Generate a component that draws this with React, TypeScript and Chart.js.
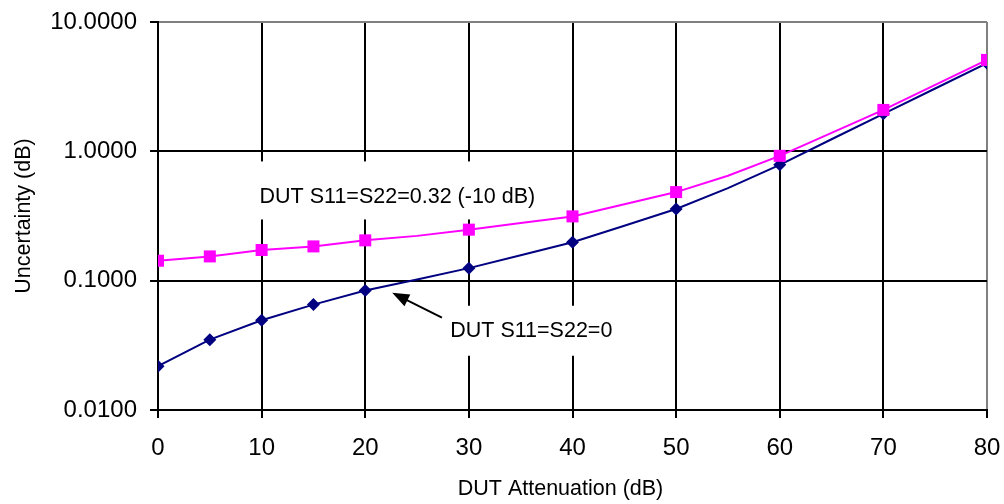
import React, { useEffect, useRef } from "react";
import { Chart, registerables } from "chart.js";

Chart.register(...registerables);

// ---- data ----
const attenuation = [0, 5, 10, 15, 20, 25, 30, 35, 40, 45, 50, 55, 60, 65, 70, 75, 80];
const markerAt = [0, 5, 10, 15, 20, 30, 40, 50, 60, 70, 80];
const uncertaintyMatched = [0.0218, 0.035, 0.0494, 0.0653, 0.084, 0.102, 0.125, 0.157, 0.198, 0.266, 0.358, 0.52, 0.787, 1.24, 1.95, 3.06, 4.8];
const uncertaintyMismatched = [0.1426, 0.154, 0.1726, 0.184, 0.205, 0.222, 0.248, 0.279, 0.314, 0.39, 0.484, 0.647, 0.923, 1.39, 2.09, 3.26, 5.09];
const yTicks = [0.01, 0.1, 1, 10];
const seriesMatchedLabel = "DUT S11=S22=0";
const seriesMismatchedLabel = "DUT S11=S22=0.32 (-10 dB)";
const xTitle = "DUT Attenuation (dB)";
const yTitle = "Uncertainty (dB)";

const FONT = "'Liberation Sans', Arial, sans-serif";

const annotationPlugin = {
  id: "annot",
  beforeDatasetsDraw(chart: any) {
    const { ctx, scales } = chart;
    const x = scales.x;
    const y = scales.y;
    ctx.save();
    ctx.font = `21.5px ${FONT}`;
    ctx.fillStyle = "#ffffff";
    const l1x = x.getPixelForValue(9.8);
    const l1y = y.getPixelForValue(0.44);
    const w1 = ctx.measureText(seriesMismatchedLabel).width;
    ctx.fillRect(l1x - 10, l1y - 36, w1 + 20, 58);
    const l2x = x.getPixelForValue(28.2);
    const l2y = y.getPixelForValue(0.041);
    const w2 = ctx.measureText(seriesMatchedLabel).width;
    ctx.fillRect(l2x - 10, l2y - 25, w2 + 20, 50);
    ctx.restore();
  },
  afterDatasetsDraw(chart: any) {
    const { ctx, scales } = chart;
    const x = scales.x;
    const y = scales.y;
    ctx.save();
    ctx.font = `21.5px ${FONT}`;
    ctx.fillStyle = "#000000";
    ctx.textAlign = "left";
    ctx.textBaseline = "middle";
    ctx.fillText(seriesMismatchedLabel, x.getPixelForValue(9.8), y.getPixelForValue(0.44));
    ctx.fillText(seriesMatchedLabel, x.getPixelForValue(28.2), y.getPixelForValue(0.041));
    const x1 = x.getPixelForValue(27.4);
    const y1 = y.getPixelForValue(0.0518);
    const x2 = x.getPixelForValue(22.6);
    const y2 = y.getPixelForValue(0.0807);
    const ang = Math.atan2(y2 - y1, x2 - x1);
    const headLen = 17;
    const headW = 6.5;
    ctx.strokeStyle = "#000000";
    ctx.lineWidth = 2;
    ctx.beginPath();
    ctx.moveTo(x1, y1);
    ctx.lineTo(x2 - Math.cos(ang) * headLen * 0.8, y2 - Math.sin(ang) * headLen * 0.8);
    ctx.stroke();
    ctx.beginPath();
    ctx.moveTo(x2, y2);
    const bx = x2 - Math.cos(ang) * headLen;
    const by = y2 - Math.sin(ang) * headLen;
    ctx.lineTo(bx + Math.sin(ang) * headW, by - Math.cos(ang) * headW);
    ctx.lineTo(bx - Math.sin(ang) * headW, by + Math.cos(ang) * headW);
    ctx.closePath();
    ctx.fill();
    // x-axis title (slightly left of the plot centre, as in the original)
    ctx.textAlign = "center";
    ctx.fillText(xTitle, (chart.chartArea.left + chart.chartArea.right) / 2 - 12, chart.height - 15);
    ctx.restore();
  },
};

export default function App() {
  const ref = useRef<HTMLCanvasElement | null>(null);
  useEffect(() => {
    if (!ref.current) return;
    const radii = (r: number) => attenuation.map((v) => (markerAt.includes(v) ? r : 0));
    const chart = new Chart(ref.current, {
      type: "line",
      data: {
        datasets: [
          {
            label: seriesMismatchedLabel,
            data: attenuation.map((v, i) => ({ x: v, y: uncertaintyMismatched[i] })),
            borderColor: "#ff00ff",
            backgroundColor: "#ff00ff",
            borderWidth: 2,
            pointStyle: "rect",
            pointRadius: radii(8.5),
            pointBorderWidth: 0,
            pointHoverRadius: 0,
            tension: 0,
          },
          {
            label: seriesMatchedLabel,
            data: attenuation.map((v, i) => ({ x: v, y: uncertaintyMatched[i] })),
            borderColor: "#000080",
            backgroundColor: "#000080",
            borderWidth: 2,
            pointStyle: "rectRot",
            pointRadius: radii(6.5),
            pointBorderWidth: 0,
            pointHoverRadius: 0,
            tension: 0,
          },
        ],
      },
      options: {
        animation: false,
        responsive: true,
        maintainAspectRatio: false,
        layout: { padding: { left: 0, right: 17, top: 22, bottom: 0 } },
        plugins: {
          legend: { display: false },
          tooltip: { enabled: false },
        },
        scales: {
          x: {
            type: "linear",
            min: 0,
            max: 80,
            ticks: { stepSize: 10, color: "#000", font: { family: FONT, size: 24 }, padding: 16 },
            grid: {
              color: (c: any) => (c.tick && c.tick.value === 80 ? "#808080" : "#000000"),
              lineWidth: 2,
              tickLength: 8,
              tickColor: "#000000",
            },
            border: { display: true, color: "#000000", width: 2 },
            title: { display: false },
            afterFit: (s: any) => {
              s.height = 94;
              s.paddingLeft = 0;
              s.paddingRight = 0;
            },
          },
          y: {
            type: "logarithmic",
            min: 0.01,
            max: 10,
            afterBuildTicks: (s: any) => {
              s.ticks = yTicks.map((v) => ({ value: v, major: true }));
            },
            ticks: {
              color: "#000",
              font: { family: FONT, size: 24 },
              padding: 13,
              callback: (v: any) => Number(v).toFixed(4),
            },
            grid: {
              color: (c: any) => (c.tick && c.tick.value === 10 ? "#808080" : "#000000"),
              lineWidth: 2,
              tickLength: 8,
              tickColor: "#000000",
            },
            border: { display: true, color: "#000000", width: 2 },
            title: {
              display: true,
              text: yTitle,
              color: "#000",
              font: { family: FONT, size: 21.5 },
              padding: { top: 11, bottom: 0 },
            },
            afterFit: (s: any) => {
              s.width = 158;
              s.paddingTop = 0;
              s.paddingBottom = 0;
            },
          },
        },
      },
      plugins: [annotationPlugin],
    });
    return () => chart.destroy();
  }, []);
  return (
    <div style={{ position: "fixed", left: 0, top: 0, width: 1004, height: 504, background: "#fff" }}>
      <canvas ref={ref} />
    </div>
  );
}
